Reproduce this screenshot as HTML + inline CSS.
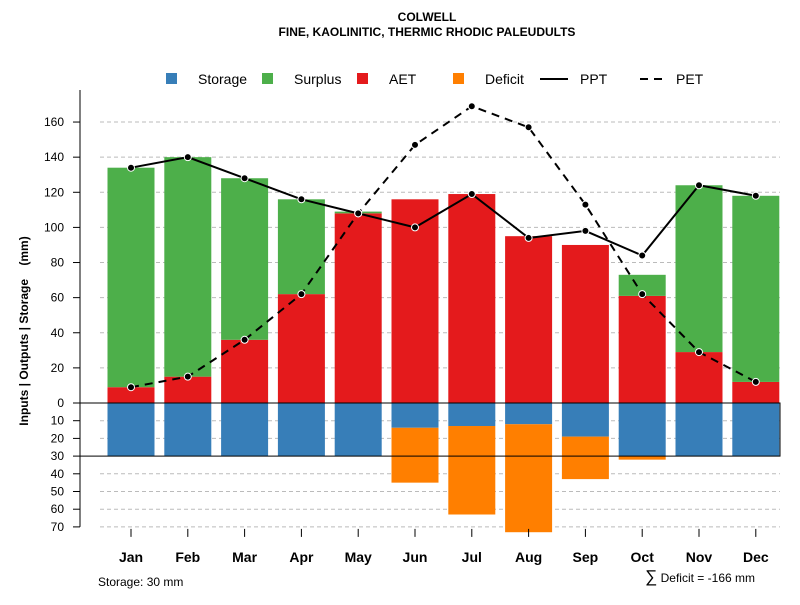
<!DOCTYPE html>
<html><head><meta charset="utf-8"><style>
body{margin:0;background:#fff}
svg{font-family:"Liberation Sans",sans-serif}
</style></head><body>
<svg id="c" width="800" height="600" xmlns="http://www.w3.org/2000/svg">
<text x="427" y="21" text-anchor="middle" font-size="12" font-weight="bold">COLWELL</text>
<text x="427" y="36" text-anchor="middle" font-size="12" font-weight="bold">FINE, KAOLINITIC, THERMIC RHODIC PALEUDULTS</text>
<g font-size="14">
<g><rect x="166" y="73" width="11" height="11" fill="#377eb8"/><text x="198" y="84">Storage</text></g>
<g><rect x="262" y="73" width="11" height="11" fill="#4daf4a"/><text x="294" y="84">Surplus</text></g>
<g><rect x="357" y="73" width="11" height="11" fill="#e41a1c"/><text x="389" y="84">AET</text></g>
<g><rect x="453" y="73" width="11" height="11" fill="#ff7f00"/><text x="485" y="84">Deficit</text></g>
<g><line x1="540" y1="79" x2="568" y2="79" stroke="#000" stroke-width="2"/><text x="580" y="84">PPT</text></g>
<g><line x1="640" y1="79" x2="668" y2="79" stroke="#000" stroke-width="2" stroke-dasharray="8,6"/><text x="676" y="84">PET</text></g>
</g>
<text transform="translate(28,331) rotate(-90)" text-anchor="middle" font-size="12" font-weight="bold">Inputs | Outputs | Storage&#160;&#160;&#160;&#160;(mm)</text>
<text x="98" y="586" font-size="12">Storage: 30 mm</text>
<text x="755" y="582" text-anchor="end" font-size="12"><tspan font-size="17">∑</tspan> Deficit = -166 mm</text>
</svg>
<script>
const months=["Jan","Feb","Mar","Apr","May","Jun","Jul","Aug","Sep","Oct","Nov","Dec"];
const ppt=[134,140,128,116,108,100,119,94,98,84,124,118];
const pet=[9,15,36,62,108,147,169,157,113,62,29,12];
const aet=[9,15,36,62,108,116,119,95,90,61,29,12];
const surplus=[125,125,92,54,1,0,0,0,0,12,95,106];
const storage=[30,30,30,30,30,14,13,12,19,30,30,30];
const deficit=[0,0,0,0,0,31,50,61,24,2,0,0];
const posTicks=[0,20,40,60,80,100,120,140,160];
const negTicks=[10,20,30,40,50,60,70];
const svg=document.getElementById('c'),NS="http://www.w3.org/2000/svg";
const y0=403,k=1.756,kn=1.77;
const yU=v=>y0-v*k, yD=v=>y0+v*kn, xC=i=>131+i*56.8, bw=47;
function mk(t,a,p){const e=document.createElementNS(NS,t);for(const n in a)e.setAttribute(n,a[n]);(p||svg).appendChild(e);return e;}
const g=mk('g',{});


posTicks.forEach(v=>{if(v>0){const l=mk('line',{x1:100,x2:780,y1:yU(v),y2:yU(v),stroke:'#bbb','stroke-dasharray':'4,3'},g);}
 const t=mk('text',{x:64,y:yU(v)+4,'text-anchor':'end','font-size':12},g);t.textContent=v;
 mk('line',{x1:73,x2:80,y1:yU(v),y2:yU(v),stroke:'#000'},g);});
negTicks.forEach(v=>{if(v!=30){const l=mk('line',{x1:100,x2:780,y1:yD(v),y2:yD(v),stroke:'#bbb','stroke-dasharray':'4,3'},g);}
 const t=mk('text',{x:64,y:yD(v)+4,'text-anchor':'end','font-size':12},g);t.textContent=v;
 mk('line',{x1:73,x2:80,y1:yD(v),y2:yD(v),stroke:'#000'},g);});
mk('line',{x1:80,x2:80,y1:90,y2:yD(70),stroke:'#000'},g);
months.forEach((m,i)=>{const x=xC(i);
 const r1=mk('rect',{x:x-bw/2,y:yU(aet[i]),width:bw,height:aet[i]*k,fill:'#e41a1c'},g);
 if(surplus[i]>0){const r=mk('rect',{x:x-bw/2,y:yU(aet[i]+surplus[i]),width:bw,height:surplus[i]*k,fill:'#4daf4a'},g);}
 const r2=mk('rect',{x:x-bw/2,y:y0,width:bw,height:storage[i]*kn,fill:'#377eb8'},g);
 if(deficit[i]>0){const r=mk('rect',{x:x-bw/2,y:yD(storage[i]),width:bw,height:deficit[i]*kn,fill:'#ff7f00'},g);}
 mk('line',{x1:x,x2:x,y1:yD(70)+2,y2:yD(70)+10,stroke:'#000'},g);
 const t=mk('text',{x:x,y:yD(70)+35,'text-anchor':'middle','font-size':14,'font-weight':'bold'},g);t.textContent=m;});
mk('rect',{x:80,y:y0,width:700,height:30*kn,fill:'none',stroke:'#000'},g);
const lp=mk('polyline',{points:ppt.map((v,i)=>xC(i)+','+yU(v)).join(' '),fill:'none',stroke:'#000','stroke-width':2},g);

const le=mk('polyline',{points:pet.map((v,i)=>xC(i)+','+yU(v)).join(' '),fill:'none',stroke:'#000','stroke-width':2,'stroke-dasharray':'8,6'},g);

[ppt,pet].forEach((s,j)=>s.forEach((v,i)=>{const c=mk('circle',{cx:xC(i),cy:yU(v),r:3.5,fill:'#000',stroke:'#fff','stroke-width':1},g);
 }));
</script>
</body></html>
